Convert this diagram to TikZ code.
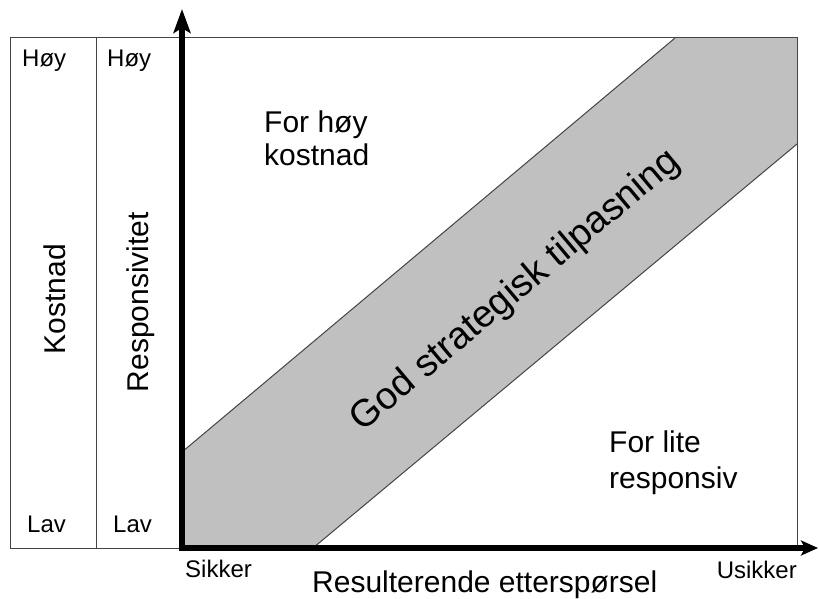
\documentclass[tikz,border=0pt]{standalone}
\usepackage{fontspec}
\setmainfont{Liberation Sans}
\usetikzlibrary{arrows.meta}
\definecolor{bandgray}{HTML}{C0C0C0}
\definecolor{framegray}{HTML}{444444}
\begin{document}
\begin{tikzpicture}[x=1pt,y=-1pt,
  small/.style={font=\fontsize{24}{28}\selectfont, inner sep=0pt},
  med/.style={font=\fontsize{30}{33}\selectfont, inner sep=0pt},
  big/.style={font=\fontsize{38}{44}\selectfont, inner sep=0pt},
  thinline/.style={draw=framegray, line width=1pt},
  axis/.style={line width=5.5pt}
]
\useasboundingbox (0,0) rectangle (819,599);
% band
\coordinate (b1) at (182,452);
\coordinate (b2) at (675,38);
\coordinate (b3) at (797,38);
\coordinate (b4) at (797,144);
\coordinate (b5) at (313,548);
\coordinate (b6) at (182,548);
\fill[bandgray] (b1) -- (b2) -- (b3) -- (b4) -- (b5) -- (b6) -- cycle;
\draw[thinline] (b1) -- (b2);
\draw[thinline] (b4) -- (b5);
% frame
\coordinate (f1) at (10,38);
\coordinate (f2) at (797,548);
\coordinate (d1) at (96,38);
\coordinate (d2) at (96,548);
\draw[thinline] (f1) rectangle (f2);
\draw[thinline] (d1) -- (d2);
% axes
\coordinate (ybot) at (182,551);
\coordinate (ytip) at (182,9);
\coordinate (xleft) at (179,548);
\coordinate (xtip) at (818,548);
\draw[axis, -{Stealth[length=24pt,width=17pt,inset=5pt]}] (ybot) -- (ytip);
\draw[axis, -{Stealth[length=17pt,width=15pt,inset=4pt]}] (xleft) -- (xtip);
% labels
\node[small, anchor=base west] (hoy1) at (22,67) {Høy};
\node[small, anchor=base west] (hoy2) at (107,67) {Høy};
\node[small, anchor=base west] (lav1) at (27,532) {Lav};
\node[small, anchor=base west] (lav2) at (113,532) {Lav};
\node[med, anchor=base, rotate=90] (kost) at (65,299) {Kostnad};
\node[med, anchor=base, rotate=90] (resp) at (148,302) {Responsivitet};
\node[med, anchor=base west] (forhoy) at (264,132) {\begin{tabular}[t]{@{}l@{}}For høy\\kostnad\end{tabular}};
\node[med, anchor=base west] (forlite) at (609,452) {\begin{tabular}[t]{@{}l@{}}For lite\\[3pt]responsiv\end{tabular}};
\node[big, rotate=40] (god) at (516,291) {God strategisk tilpasning};
\node[small, anchor=base west] (sikker) at (185,577) {Sikker};
\node[small, anchor=base east] (usikker) at (797,578) {Usikker};
\node[med, anchor=base west] (result) at (312,592) {Resulterende etterspørsel};
\end{tikzpicture}
\end{document}
